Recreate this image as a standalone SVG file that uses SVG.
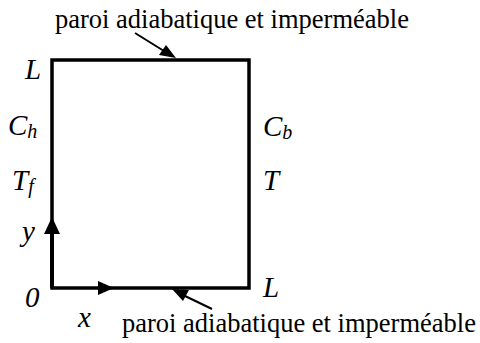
<svg xmlns="http://www.w3.org/2000/svg" width="480" height="343" viewBox="0 0 480 343">
<defs>
<style>
text{font-family:'Liberation Serif','Times New Roman','DejaVu Serif',serif;fill:#000}
.txt{font-size:26.5px}
.lab{font-style:italic;font-size:29px}
.sub{font-size:20px}
.wall{fill:none;stroke:#000;stroke-width:3.5;stroke-linejoin:miter}
.ptr{stroke:#000;stroke-width:2;fill:none}
.axis{stroke:#000;stroke-width:4;fill:none}
</style>
</defs>
<g id="cavity">
<rect class="wall" x="52" y="60" width="197" height="228"/>
</g>
<g id="connectors">
<line class="ptr" x1="135" y1="33" x2="164" y2="51"/>
<polygon points="176,58 159,55 166,45" fill="#000"/>
<line class="ptr" x1="212" y1="309" x2="183" y2="295"/>
<polygon points="172,289 189,290 183,301" fill="#000"/>
<line class="axis" x1="52" y1="288" x2="52" y2="232"/>
<polygon points="52,217 44,234 60,234" fill="#000"/>
<polygon points="114,288 98,281 98,295" fill="#000"/>
</g>
<g id="label-top"><text class="txt" x="55" y="28">paroi adiabatique et imperméable</text></g>
<g id="label-bottom"><text class="txt" x="122" y="332">paroi adiabatique et imperméable</text></g>
<g id="label-L-top"><text class="lab" x="25" y="79">L</text></g>
<g id="label-Ch"><text class="lab" x="8" y="135">C<tspan class="sub" dy="3">h</tspan></text></g>
<g id="label-Tf"><text class="lab" x="12" y="190">T<tspan class="sub" dy="3">f</tspan></text></g>
<g id="label-Cb"><text class="lab" x="263" y="136">C<tspan class="sub" dy="3">b</tspan></text></g>
<g id="label-T"><text class="lab" x="263" y="190">T</text></g>
<g id="label-y"><text class="lab" x="22" y="241">y</text></g>
<g id="label-0"><text class="lab" x="25" y="307">0</text></g>
<g id="label-x"><text class="lab" x="78" y="327">x</text></g>
<g id="label-L-bottom"><text class="lab" x="263" y="297">L</text></g>
</svg>
